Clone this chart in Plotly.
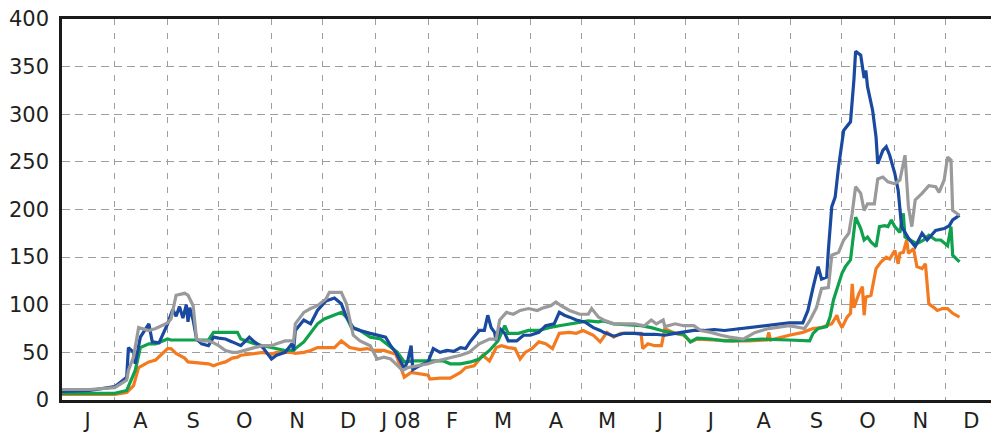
import plotly.graph_objects as go

# ---- data ----
blue = [("2007-07-01",9),("2007-07-17",10),("2007-08-01",14),("2007-08-08",24),("2007-08-09",55),
        ("2007-08-12",50),("2007-08-13",38),("2007-08-16",66),("2007-08-21",80),("2007-08-23",61),
        ("2007-08-27",60),("2007-09-01",80),("2007-09-04",95),("2007-09-06",88),("2007-09-08",98),
        ("2007-09-10",86),("2007-09-12",100),("2007-09-13",82),("2007-09-14",97),("2007-09-16",84),
        ("2007-09-18",64),("2007-09-21",59),("2007-09-25",57),("2007-09-28",66),("2007-10-01",65),
        ("2007-10-05",64),("2007-10-09",61),("2007-10-12",59),("2007-10-14",57),("2007-10-19",66),
        ("2007-10-22",61),("2007-10-27",55),("2007-11-01",43),("2007-11-04",47),("2007-11-09",50),
        ("2007-11-13",59),("2007-11-14",52),("2007-11-15",73),("2007-11-20",84),("2007-11-24",80),
        ("2007-11-28",94),("2007-12-03",104),("2007-12-08",107),("2007-12-12",101),("2007-12-15",87),
        ("2007-12-19",76),("2007-12-23",73),("2007-12-29",70),("2008-01-03",68),("2008-01-07",66),
        ("2008-01-10",57),("2008-01-13",50),("2008-01-18",33),("2008-01-20",41),("2008-01-22",57),
        ("2008-01-23",32),("2008-01-27",36),("2008-02-01",40),("2008-02-04",54),("2008-02-08",50),
        ("2008-02-12",52),("2008-02-16",51),("2008-02-20",55),("2008-02-23",54),("2008-02-26",62),
        ("2008-03-02",73),("2008-03-05",73),("2008-03-07",89),("2008-03-09",76),("2008-03-11",71),
        ("2008-03-12",62),("2008-03-14",75),("2008-03-17",70),("2008-03-19",62),("2008-03-24",62),
        ("2008-03-28",68),("2008-04-01",68),("2008-04-06",71),("2008-04-10",78),("2008-04-15",80),
        ("2008-04-18",92),("2008-04-21",89),("2008-04-24",87),("2008-04-28",84),("2008-05-03",82),
        ("2008-05-08",76),("2008-05-12",73),("2008-05-14",71),("2008-05-20",67),("2008-05-26",70),
        ("2008-06-01",70),("2008-06-07",69),("2008-06-13",69),("2008-06-19",68),("2008-06-25",70),
        ("2008-06-30",71),("2008-07-06",73),("2008-07-12",73),("2008-07-18",74),("2008-07-24",73),
        ("2008-07-29",74),("2008-08-07",76),("2008-08-19",78),("2008-08-31",81),("2008-09-08",81),
        ("2008-09-11",94),("2008-09-14",118),("2008-09-17",140),("2008-09-19",127),("2008-09-22",129),
        ("2008-09-23",157),("2008-09-25",203),("2008-09-27",213),("2008-09-29",245),("2008-10-02",283),
        ("2008-10-04",287),("2008-10-06",292),("2008-10-08",336),("2008-10-09",366),("2008-10-12",362),
        ("2008-10-14",338),("2008-10-15",346),("2008-10-16",329),("2008-10-19",304),("2008-10-21",276),
        ("2008-10-22",248),("2008-10-25",262),("2008-10-27",266),("2008-10-29",257),("2008-11-01",238),
        ("2008-11-03",220),("2008-11-05",182),("2008-11-09",170),("2008-11-13",161),("2008-11-17",175),
        ("2008-11-20",168),("2008-11-25",178),("2008-11-30",180),("2008-12-03",183),("2008-12-05",189),
        ("2008-12-09",194)]

grey = [("2007-07-01",11),("2007-07-17",11),("2007-08-01",13),("2007-08-08",21),("2007-08-09",31),
        ("2007-08-12",45),("2007-08-15",76),("2007-08-21",73),("2007-08-25",75),("2007-09-01",81),
        ("2007-09-03",85),("2007-09-06",110),("2007-09-11",112),("2007-09-13",110),("2007-09-16",99),
        ("2007-09-18",64),("2007-09-21",62),("2007-09-25",62),("2007-09-28",60),("2007-10-01",57),
        ("2007-10-05",52),("2007-10-09",50),("2007-10-12",50),("2007-10-14",51),("2007-10-19",54),
        ("2007-10-22",55),("2007-10-27",57),("2007-11-01",57),("2007-11-04",59),("2007-11-09",62),
        ("2007-11-13",62),("2007-11-14",61),("2007-11-15",80),("2007-11-20",92),("2007-11-24",96),
        ("2007-11-28",99),("2007-12-03",106),("2007-12-05",113),("2007-12-12",113),("2007-12-15",101),
        ("2007-12-19",68),("2007-12-23",62),("2007-12-29",57),("2008-01-02",43),("2008-01-06",45),
        ("2008-01-10",43),("2008-01-13",38),("2008-01-17",31),("2008-01-20",34),("2008-01-25",36),
        ("2008-02-01",38),("2008-02-06",41),("2008-02-14",44),("2008-02-20",47),("2008-02-25",50),
        ("2008-03-02",59),("2008-03-08",64),("2008-03-12",64),("2008-03-14",84),("2008-03-18",92),
        ("2008-03-22",90),("2008-03-26",94),("2008-03-31",96),("2008-04-05",94),("2008-04-09",97),
        ("2008-04-13",99),("2008-04-16",103),("2008-04-19",99),("2008-04-24",94),("2008-04-30",90),
        ("2008-05-05",90),("2008-05-07",96),("2008-05-11",87),("2008-05-14",84),("2008-05-20",80),
        ("2008-05-26",80),("2008-06-01",80),("2008-06-07",78),("2008-06-11",84),("2008-06-14",80),
        ("2008-06-18",84),("2008-06-19",77),("2008-06-25",80),("2008-06-30",78),("2008-07-06",78),
        ("2008-07-10",73),("2008-07-16",71),("2008-07-22",68),("2008-07-27",66),("2008-08-04",64),
        ("2008-08-11",71),("2008-08-19",75),("2008-08-31",78),("2008-09-09",75),("2008-09-12",83),
        ("2008-09-16",97),("2008-09-19",117),("2008-09-23",118),("2008-09-25",152),("2008-09-29",155),
        ("2008-10-02",168),("2008-10-05",175),("2008-10-07",196),("2008-10-09",224),("2008-10-12",217),
        ("2008-10-14",199),("2008-10-16",206),("2008-10-20",206),("2008-10-22",232),("2008-10-25",234),
        ("2008-10-28",229),("2008-11-01",227),("2008-11-04",231),("2008-11-07",257),("2008-11-09",203),
        ("2008-11-11",182),("2008-11-13",210),("2008-11-17",217),("2008-11-21",225),("2008-11-25",224),
        ("2008-11-27",218),("2008-11-30",231),("2008-12-02",255),("2008-12-04",252),("2008-12-05",199),
        ("2008-12-09",194)]

green = [("2007-07-01",7),("2007-08-01",7),("2007-08-08",10),("2007-08-13",31),("2007-08-16",55),
         ("2007-08-21",59),("2007-08-25",59),("2007-09-01",64),("2007-09-03",63),("2007-09-11",63),
         ("2007-09-21",63),("2007-09-25",63),("2007-09-28",71),("2007-10-01",71),("2007-10-09",71),
         ("2007-10-12",71),("2007-10-14",64),("2007-10-19",61),("2007-10-22",59),("2007-10-27",57),
         ("2007-11-01",55),("2007-11-04",54),("2007-11-09",52),("2007-11-14",52),("2007-11-15",54),
         ("2007-11-20",61),("2007-11-24",70),("2007-11-28",80),("2007-12-02",85),("2007-12-08",89),
         ("2007-12-12",92),("2007-12-15",87),("2007-12-18",76),("2007-12-23",73),("2007-12-29",66),
         ("2008-01-04",64),("2008-01-10",55),("2008-01-14",50),("2008-01-18",40),("2008-01-24",41),
         ("2008-01-30",41),("2008-02-04",41),("2008-02-10",41),("2008-02-14",38),("2008-02-20",38),
         ("2008-02-26",40),("2008-03-02",43),("2008-03-08",52),("2008-03-13",62),("2008-03-17",78),
         ("2008-03-19",70),("2008-03-25",70),("2008-03-31",73),("2008-04-06",73),("2008-04-12",76),
         ("2008-04-18",78),("2008-04-24",80),("2008-04-30",82),("2008-05-05",83),("2008-05-11",82),
         ("2008-05-14",83),("2008-05-20",80),("2008-05-28",79),("2008-06-05",78),("2008-06-11",76),
         ("2008-06-17",73),("2008-06-25",70),("2008-06-30",69),("2008-07-04",61),("2008-07-08",65),
         ("2008-07-16",64),("2008-07-24",62),("2008-07-29",62),("2008-08-05",63),("2008-08-15",64),
         ("2008-08-31",63),("2008-09-12",62),("2008-09-14",70),("2008-09-17",75),("2008-09-22",77),
         ("2008-09-24",87),("2008-09-26",105),("2008-09-29",122),("2008-10-01",133),("2008-10-03",140),
         ("2008-10-06",147),("2008-10-09",192),("2008-10-12",180),("2008-10-14",168),("2008-10-16",171),
         ("2008-10-18",166),("2008-10-21",161),("2008-10-23",182),("2008-10-26",183),("2008-10-28",182),
         ("2008-10-30",189),("2008-11-01",182),("2008-11-04",176),("2008-11-06",196),("2008-11-07",171),
         ("2008-11-10",168),("2008-11-14",164),("2008-11-18",168),("2008-11-21",173),("2008-11-25",168),
         ("2008-11-28",168),("2008-12-02",162),("2008-12-04",182),("2008-12-05",152),("2008-12-09",145)]

orange = [("2007-07-01",6),("2007-08-01",6),("2007-08-08",8),("2007-08-12",15),("2007-08-15",34),
          ("2007-08-21",40),("2007-08-25",42),("2007-09-01",54),("2007-09-03",54),("2007-09-06",49),
          ("2007-09-11",44),("2007-09-13",40),("2007-09-25",38),("2007-09-28",36),("2007-10-01",38),
          ("2007-10-05",40),("2007-10-09",44),("2007-10-12",45),("2007-10-14",47),("2007-10-19",48),
          ("2007-10-22",49),("2007-10-27",50),("2007-11-01",48),("2007-11-04",50),("2007-11-09",50),
          ("2007-11-13",50),("2007-11-15",49),("2007-11-20",50),("2007-11-24",52),("2007-11-28",55),
          ("2007-12-01",55),("2007-12-08",55),("2007-12-12",62),("2007-12-17",55),("2007-12-23",53),
          ("2007-12-27",54),("2007-12-31",52),("2008-01-06",52),("2008-01-13",48),("2008-01-18",24),
          ("2008-01-22",29),("2008-01-25",28),("2008-02-01",26),("2008-02-02",22),("2008-02-08",23),
          ("2008-02-14",23),("2008-02-20",29),("2008-02-23",34),("2008-02-28",36),("2008-03-04",47),
          ("2008-03-08",41),("2008-03-12",55),("2008-03-15",57),("2008-03-19",55),("2008-03-23",54),
          ("2008-03-26",43),("2008-03-29",50),("2008-04-02",54),("2008-04-06",61),("2008-04-10",59),
          ("2008-04-14",54),("2008-04-18",70),("2008-04-24",71),("2008-04-28",70),("2008-05-02",73),
          ("2008-05-08",68),("2008-05-12",61),("2008-05-16",71),("2008-05-20",66),("2008-05-24",70),
          ("2008-05-28",70),("2008-06-05",70),("2008-06-06",54),("2008-06-09",59),("2008-06-13",57),
          ("2008-06-17",57),("2008-06-19",75),("2008-06-25",70),("2008-06-30",68),("2008-07-04",61),
          ("2008-07-08",64),("2008-07-16",63),("2008-07-24",62),("2008-07-29",62),("2008-08-07",62),
          ("2008-08-18",63),("2008-08-19",71),("2008-08-20",63),("2008-08-31",68),("2008-09-08",71),
          ("2008-09-14",75),("2008-09-19",76),("2008-09-25",80),("2008-09-28",89),("2008-09-29",83),
          ("2008-10-01",76),("2008-10-04",87),("2008-10-06",91),("2008-10-07",122),("2008-10-08",97),
          ("2008-10-11",112),("2008-10-13",119),("2008-10-14",89),("2008-10-15",108),("2008-10-18",110),
          ("2008-10-21",138),("2008-10-24",145),("2008-10-27",150),("2008-10-29",148),("2008-11-01",157),
          ("2008-11-03",143),("2008-11-04",154),("2008-11-06",155),("2008-11-08",168),("2008-11-09",154),
          ("2008-11-12",159),("2008-11-14",140),("2008-11-17",138),("2008-11-19",143),("2008-11-21",101),
          ("2008-11-24",97),("2008-11-26",94),("2008-11-29",96),("2008-12-02",96),("2008-12-05",91),
          ("2008-12-09",87)]

month_mid = ["2007-07-16","2007-08-16","2007-09-16","2007-10-16","2007-11-16","2007-12-16",
             "2008-01-16","2008-02-15","2008-03-16","2008-04-16","2008-05-16","2008-06-16",
             "2008-07-16","2008-08-16","2008-09-16","2008-10-16","2008-11-16","2008-12-16"]
month_labels = ["J","A","S","O","N","D","J 08","F","M","A","M","J","J","A","S","O","N","D"]
y_ticks = [0, 50, 100, 150, 200, 250, 300, 350, 400]

series = [("orange", orange, "#f47a20"),
          ("green", green, "#0fa14c"),
          ("blue", blue, "#1a4a9f"),
          ("grey", grey, "#9a9a9c")]

fig = go.Figure()
for name, data, color in series:
    fig.add_trace(go.Scatter(
        x=[d for d, _ in data], y=[v for _, v in data],
        mode="lines", name=name,
        line=dict(color=color, width=3.2),
    ))

font_col = "#231f20"
fig.update_layout(
    width=991, height=439,
    margin=dict(l=62, r=0, t=19, b=39, autoexpand=False),
    paper_bgcolor="white", plot_bgcolor="white",
    showlegend=False,
    font=dict(family="DejaVu Sans", size=21, color=font_col),
)
fig.update_xaxes(
    type="date", automargin=False,
    range=["2007-07-01", "2008-12-27 12:00"],
    tickvals=month_mid, ticktext=month_labels,
    ticks="", showgrid=False,
    showline=True, linecolor="#1a1a1a", linewidth=2.5, mirror=True,
    tickfont=dict(size=21, color=font_col),
    minor=dict(dtick="M1", tick0="2007-08-01", showgrid=True,
               gridcolor="#9d9d9d", gridwidth=1.3, griddash="6px,8px", ticks=""),
)
fig.update_yaxes(
    automargin=False,
    range=[0, 400], tickvals=y_ticks,
    ticks="", showgrid=True, gridcolor="#9d9d9d", gridwidth=1.3, griddash="8px,5px",
    zeroline=False,
    showline=True, linecolor="#1a1a1a", linewidth=2.5, mirror=False,
    tickfont=dict(size=21, color=font_col),
    ticklabelstandoff=6,
)

fig.write_html("out.html", config={"displayModeBar": False},
               post_script="document.body.style.margin='0';document.body.style.overflow='hidden';")
